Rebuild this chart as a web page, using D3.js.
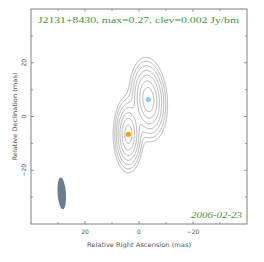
<!DOCTYPE html>
<html><head><meta charset="utf-8">
<script src="https://cdn.jsdelivr.net/npm/d3@7"></script>
<style>html,body{margin:0;padding:0;background:#fff;}svg{display:block;}</style>
</head><body><svg id="c" width="264" height="262"></svg>
<script>
// ---- data ----
const title = "J2131+8430, max=0.27, clev=0.002 Jy/bm";
const epoch = "2006-02-23";
const xLabel = "Relative Right Ascension (mas)";
const yLabel = "Relative Declination (mas)";
const xDomain = [40, -40];
const yDomain = [-40, 40];
const majorTicks = [20, 0, -20];
const minorTicks = [30, 10, -10, -30];
// model components (mas, Jy/bm)
const compRA = [3.95, -3.45];
const compDec = [-6.6, 6.3];
const compPeak = [0.22, 0.27];
const compScaleX = [2.0, 2.45];    // horizontal scale length (mas)
const compScaleY = [5.1, 5.45];    // vertical scale length (mas)
const compShape = [1.5, 1.5];      // profile exponent
const compPA = [0, 4];
// restoring beam
const beamRA = [28.6];
const beamDec = [-28.6];
const beamMaj = [11.8];
const beamMin = [3.1];
const beamPA = [-4];
const contourLevels = [0.002, 0.004, 0.008, 0.016, 0.032, 0.064, 0.128, 0.256];

// ---- layout ----
const svg = d3.select("#c");
const L = 31, R = 247, T = 9, B = 224;
const x = d3.scaleLinear().domain(xDomain).range([L, R]);
const y = d3.scaleLinear().domain(yDomain).range([B, T]);
const pxPerMas = (R - L) / 80;

// grid
const step = 0.2;
const nx = Math.round((xDomain[0] - xDomain[1]) / step);
const ny = Math.round((yDomain[1] - yDomain[0]) / step);
const vals = new Float64Array(nx * ny);
for (let j = 0; j < ny; j++) {
  const dec = yDomain[1] - (j + 0.5) * step;
  for (let i = 0; i < nx; i++) {
    const ra = xDomain[0] - (i + 0.5) * step;
    let v = 0;
    for (let c = 0; c < compRA.length; c++) {
      const pa = compPA[c] * Math.PI / 180;
      const dx = ra - compRA[c], dy = dec - compDec[c];
      const u = dx * Math.cos(pa) - dy * Math.sin(pa);
      const w = dx * Math.sin(pa) + dy * Math.cos(pa);
      const rho = Math.sqrt((u / compScaleX[c]) ** 2 + (w / compScaleY[c]) ** 2);
      v += compPeak[c] * Math.exp(-Math.pow(rho, compShape[c]));
    }
    vals[j * nx + i] = v;
  }
}
const contours = d3.contours().size([nx, ny]).thresholds(contourLevels)(vals);
const proj = d3.geoTransform({
  point(px, py) {
    this.stream.point(x(xDomain[0] - px * step), y(yDomain[1] - py * step));
  }
});
const path = d3.geoPath(proj);
svg.append("clipPath").attr("id", "clp").append("rect")
  .attr("x", L).attr("y", T).attr("width", R - L).attr("height", B - T);

svg.append("g").attr("clip-path", "url(#clp)")
  .selectAll("path").data(contours).join("path")
  .attr("d", path).attr("fill", "none").attr("stroke", "#8c8c8c").attr("stroke-width", 0.65);

// beam
svg.selectAll("ellipse.beam").data(beamRA).join("ellipse").attr("class", "beam")
  .attr("cx", (d, i) => x(beamRA[i])).attr("cy", (d, i) => y(beamDec[i]))
  .attr("rx", (d, i) => beamMin[i] / 2 * pxPerMas).attr("ry", (d, i) => beamMaj[i] / 2 * pxPerMas)
  .attr("transform", (d, i) => `rotate(${beamPA[i]},${x(beamRA[i])},${y(beamDec[i])})`)
  .attr("fill", "#6a7e91");

// component dots
const dotColors = ["#f5a000", "#87cefa"];
svg.selectAll("circle.comp").data(compRA).join("circle").attr("class", "comp")
  .attr("cx", (d, i) => x(compRA[i])).attr("cy", (d, i) => y(compDec[i]))
  .attr("r", 2.6).attr("fill", (d, i) => dotColors[i]);

// frame
const axCol = "#808080";
svg.append("rect").attr("x", L).attr("y", T).attr("width", R - L).attr("height", B - T)
  .attr("fill", "none").attr("stroke", axCol).attr("stroke-width", 1);

const tk = svg.append("g").attr("stroke", axCol).attr("stroke-width", 0.8);
function ticks(list, len) {
  list.forEach(v => {
    tk.append("line").attr("x1", x(v)).attr("x2", x(v)).attr("y1", B).attr("y2", B - len);
    tk.append("line").attr("x1", x(v)).attr("x2", x(v)).attr("y1", T).attr("y2", T + len);
    tk.append("line").attr("y1", y(v)).attr("y2", y(v)).attr("x1", L).attr("x2", L + len);
    tk.append("line").attr("y1", y(v)).attr("y2", y(v)).attr("x1", R).attr("x2", R - len);
  });
}
ticks(majorTicks, 3);
ticks(minorTicks, 2);

const font = "DejaVu Sans, sans-serif";
const tcol = "#555";
svg.append("g").selectAll("text").data(majorTicks).join("text")
  .attr("x", d => x(d)).attr("y", 233.5).attr("text-anchor", "middle")
  .attr("font-family", font).attr("font-size", 6).attr("fill", tcol)
  .text(d => d < 0 ? "\u2212" + (-d) : d);
svg.append("g").selectAll("text").data(majorTicks).join("text")
  .attr("transform", d => `translate(26,${y(d)}) rotate(-90)`).attr("text-anchor", "middle")
  .attr("font-family", font).attr("font-size", 6).attr("fill", tcol)
  .text(d => d < 0 ? "\u2212" + (-d) : d);

svg.append("text").attr("x", 139).attr("y", 247).attr("text-anchor", "middle")
  .attr("font-family", font).attr("font-size", 6.2).attr("fill", tcol)
  .attr("textLength", 104).attr("lengthAdjust", "spacingAndGlyphs").text(xLabel);
svg.append("text").attr("transform", `translate(16.5,${y(0)}) rotate(-90)`).attr("text-anchor", "middle")
  .attr("font-family", font).attr("font-size", 6.2).attr("fill", tcol)
  .attr("textLength", 88).attr("lengthAdjust", "spacingAndGlyphs").text(yLabel);

const serif = "Liberation Serif, serif";
const green = "#3a9a3a";
svg.append("text").attr("x", 38).attr("y", 22.5)
  .attr("font-family", serif).attr("font-size", 8).attr("fill", green)
  .attr("textLength", 201).attr("lengthAdjust", "spacingAndGlyphs").text(title);
svg.append("text").attr("x", 242).attr("y", 217.5).attr("text-anchor", "end")
  .attr("font-family", serif).attr("font-style", "italic").attr("font-size", 8).attr("fill", green)
  .attr("textLength", 51).attr("lengthAdjust", "spacingAndGlyphs").text(epoch);
</script>
</body></html>
